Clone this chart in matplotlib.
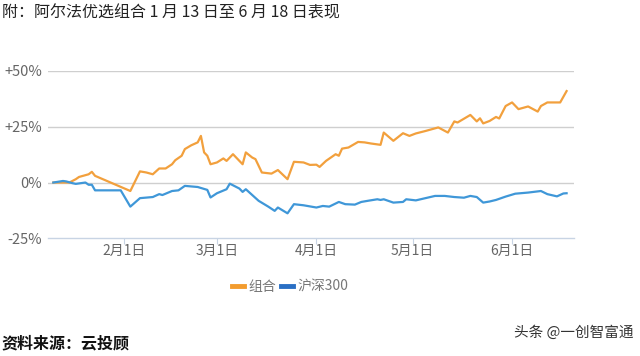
import matplotlib
matplotlib.use('Agg')
import matplotlib.pyplot as plt
import numpy as np
import pandas as pd

plt.rcParams['font.family'] = ['Noto Sans CJK SC', 'DejaVu Sans']

# Data: day offset from 2020-01-10, cumulative return in %
start = pd.Timestamp('2020-01-10')

combo_days = [0, 5, 7, 8, 10, 11, 12, 13, 24, 27, 29, 31, 33, 35, 37, 38, 40, 41, 43, 45,
              46, 47, 48, 49, 51, 53, 54, 56, 57, 59, 60, 62, 63, 65, 68, 70, 73, 75, 78, 80,
              82, 83, 85, 88, 89, 90, 92, 95, 97, 99, 102, 103, 106, 109, 111, 113, 116, 120,
              123, 125, 126, 130, 132, 133, 134, 136, 138, 139, 141, 143, 145, 148, 151, 152,
              154, 158, 160]
combo_vals = [0.0, 0.0, 1.5, 2.5, 3.3, 3.7, 4.8, 3.0, -3.8, 5.0, 4.5, 3.7, 6.3, 6.3, 8.2, 10.0,
              12.0, 15.0, 16.7, 18.0, 20.9, 13.5, 12.0, 8.2, 9.0, 10.8, 9.7, 12.7, 11.2, 8.2,
              13.5, 11.2, 10.5, 4.5, 4.0, 5.6, 1.5, 9.3, 9.0, 7.9, 8.0, 7.0, 9.7, 12.7, 12.0,
              15.2, 15.7, 18.2, 18.0, 17.5, 16.9, 22.4, 18.7, 22.1, 20.9, 22.0, 23.1, 24.7,
              22.4, 27.4, 26.9, 30.3, 27.4, 28.8, 26.5, 27.6, 29.4, 28.7, 34.3, 35.9, 32.9,
              34.1, 31.8, 34.3, 35.9, 35.9, 41.0]

hs300_days = [0, 3, 4, 6, 7, 10, 11, 12, 13, 21, 24, 27, 31, 33, 34, 37, 39, 41, 45, 48, 49,
              51, 54, 55, 58, 59, 60, 64, 67, 69, 70, 73, 75, 78, 82, 84, 86, 88, 89, 91, 94,
              96, 98, 101, 102, 103, 106, 109, 110, 113, 116, 119, 122, 125, 128, 130, 132,
              134, 136, 138, 141, 144, 148, 152, 154, 157, 159, 160]
hs300_vals = [0.0, 0.7, 0.5, -0.3, -0.6, 0.0, -1.0, -1.0, -3.5, -3.5, -10.8, -7.0, -6.5, -5.2,
              -5.6, -3.8, -3.5, -1.5, -2.0, -3.3, -6.7, -4.8, -3.0, -0.5, -2.7, -4.2, -3.0,
              -8.2, -10.8, -12.7, -11.2, -13.8, -9.7, -10.2, -11.2, -10.5, -10.8, -9.4, -8.7,
              -9.7, -9.9, -8.7, -8.2, -7.5, -7.8, -7.5, -9.0, -8.7, -7.5, -8.0, -7.0, -6.0,
              -6.0, -6.5, -6.8, -6.0, -6.5, -9.0, -8.5, -7.8, -6.3, -5.0, -4.5, -3.8, -5.2,
              -6.2, -4.9, -4.8]

y_ticks = [-25, 0, 25, 50]
y_labels = ['-25%', '0%', '+25%', '+50%']
x_ticks = ['2020-02-01', '2020-03-01', '2020-04-01', '2020-05-01', '2020-06-01']
x_labels = ['2月1日', '3月1日', '4月1日', '5月1日', '6月1日']

combo_dates = [start + pd.Timedelta(days=d) for d in combo_days]
hs300_dates = [start + pd.Timedelta(days=d) for d in hs300_days]

fig = plt.figure(figsize=(6.4, 3.56), dpi=100)
ax = fig.add_axes([0.075, 0.3306, 0.822, 0.47])

ax.plot(combo_dates, combo_vals, color='#f2a03d', linewidth=1.6, label='组合')
ax.plot(hs300_dates, hs300_vals, color='#3f97d8', linewidth=1.6, label='沪深300')

ax.set_ylim(-25, 50)
ax.set_xlim(pd.Timestamp('2020-01-08 08:00'), pd.Timestamp('2020-06-20 08:00'))
ax.set_yticks(y_ticks)
ax.set_yticklabels(y_labels)
ax.set_xticks([pd.Timestamp(t) for t in x_ticks])
ax.set_xticklabels(x_labels)

for v in y_ticks[1:]:
    ax.axhline(v, color='#cfcfcf', linewidth=1.0, zorder=0)

for s in ['top', 'right', 'left']:
    ax.spines[s].set_visible(False)
ax.spines['bottom'].set_color('#c8d4e4')
ax.spines['bottom'].set_linewidth(1.0)
ax.tick_params(axis='y', length=0, labelsize=10.5, labelcolor='#666666', pad=4)
ax.tick_params(axis='x', length=4, color='#c8d4e4', labelsize=10, labelcolor='#666666', pad=0)

leg = ax.legend(loc='center', bbox_to_anchor=(0.46, -0.29), ncol=2, frameon=False,
                fontsize=10, handlelength=0.9, handletextpad=0.3, columnspacing=0.3)
for line, col in zip(leg.get_lines(), ['#f39c2e', '#2a6fc4']):
    line.set_color(col)
    line.set_linewidth(3.5)
for t in leg.get_texts():
    t.set_color('#777777')

fig.text(0.003, 0.962, '附：阿尔法优选组合 1 月 13 日至 6 月 18 日表现', fontsize=11.5,
         color='#222222', ha='left', va='center')
fig.text(0.003, 0.035, '资料来源：云投顾', fontsize=11.5, fontweight='bold',
         color='#111111', ha='left', va='center')
fig.text(0.99, 0.065, '头条 @一创智富通', fontsize=10.5, color='#333333',
         ha='right', va='center')

fig.savefig('out.png', dpi=100, facecolor='white')
